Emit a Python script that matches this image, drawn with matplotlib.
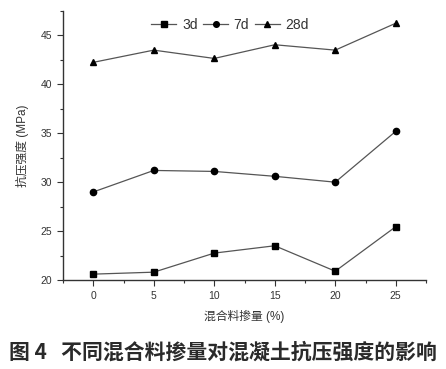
import matplotlib
matplotlib.use('Agg')
import matplotlib.pyplot as plt
from matplotlib.ticker import MultipleLocator

plt.rcParams['font.family'] = ['Liberation Sans', 'Noto Sans CJK SC', 'DejaVu Sans']

# data
dosage = [0, 5, 10, 15, 20, 25]
s3d = [20.6, 20.8, 22.75, 23.5, 20.9, 25.45]
s7d = [29.0, 31.2, 31.1, 30.6, 30.0, 35.2]
s28d = [42.25, 43.5, 42.65, 44.05, 43.5, 46.25]
labels = ['3d', '7d', '28d']
markers = ['s', 'o', '^']

fig = plt.figure(figsize=(4.46, 3.69), dpi=100)
ax = fig.add_axes([63/446, 1-280/369, (426-63)/446, (280-11)/369])

for vals, lab, mk in zip([s3d, s7d, s28d], labels, markers):
    ax.plot(dosage, vals, color='#555555', lw=0.9, marker=mk, ms=4.5,
            mfc='black', mec='black', label=lab)

ax.set_xlim(-2.5, 27.5)
ax.set_ylim(20, 47.5)
ax.xaxis.set_major_locator(MultipleLocator(5))
ax.xaxis.set_minor_locator(MultipleLocator(2.5))
ax.yaxis.set_major_locator(MultipleLocator(5))
ax.yaxis.set_minor_locator(MultipleLocator(2.5))
ax.spines['top'].set_visible(False)
ax.spines['right'].set_visible(False)
for s in ['left', 'bottom']:
    ax.spines[s].set_color('#333333')
    ax.spines[s].set_linewidth(1.0)
ax.tick_params(which='major', length=4, width=0.8, labelsize=7.5, colors='#333333', pad=4)
ax.tick_params(which='minor', length=2.5, width=0.8, colors='#333333')

ax.set_xlabel('混合料掺量 (%)', fontsize=8.5, color='#333333', labelpad=6)
ax.set_ylabel('抗压强度 (MPa)', fontsize=8.5, color='#333333', labelpad=8)

leg = ax.legend(loc='upper center', bbox_to_anchor=(0.46, 1.02), ncol=3, frameon=False,
                fontsize=10, handlelength=1.8, handletextpad=0.4, columnspacing=0.4,
                labelcolor='#333333', markerscale=0.9)

fig.text(0.5, 1-352/369, '图 4   不同混合料掺量对混凝土抗压强度的影响', ha='center', va='center',
         fontsize=15, fontweight='bold', color='#2a2a2a',
         family=['Noto Sans CJK SC', 'DejaVu Sans'])

fig.savefig('out.png', dpi=100)
